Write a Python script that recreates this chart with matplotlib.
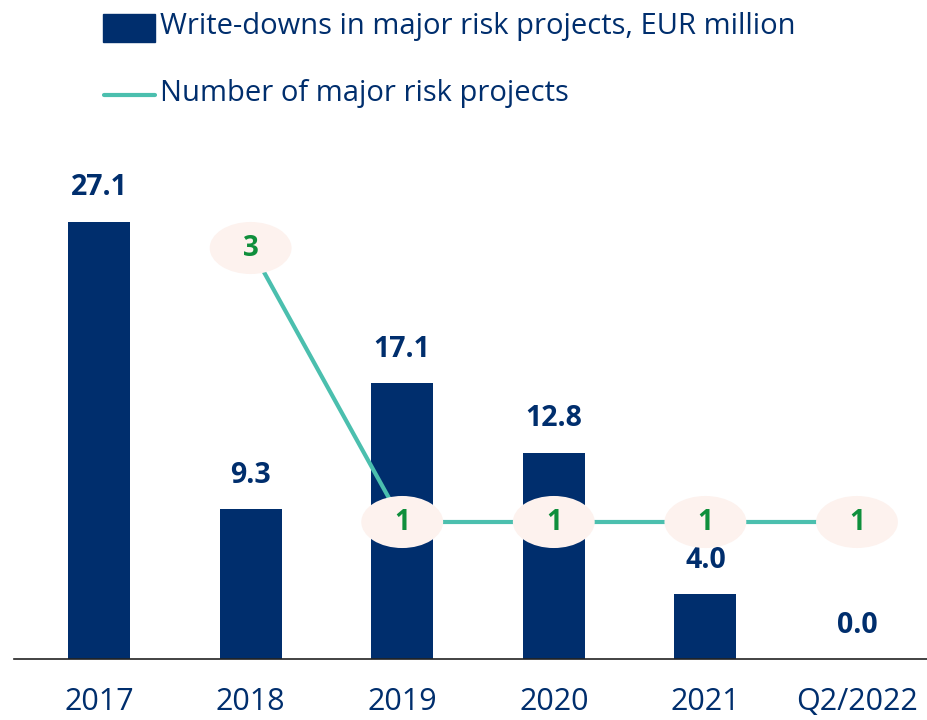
import matplotlib
matplotlib.use("Agg")
import matplotlib.pyplot as plt
from matplotlib.patches import Ellipse, Rectangle
from matplotlib.lines import Line2D

categories = ["2017", "2018", "2019", "2020", "2021", "Q2/2022"]
write_downs = [27.1, 9.3, 17.1, 12.8, 4.0, 0.0]
project_idx = [1, 2, 3, 4, 5]
projects = [3, 1, 1, 1, 1]

NAVY = "#002e6d"
TEAL = "#4bbfae"
GREEN = "#0f8f3c"
PINK = "#fdf2ee"

plt.rcParams["font.family"] = ["Open Sans", "DejaVu Sans"]

fig = plt.figure(figsize=(9.27, 7.2), dpi=100)
W, H = 927, 720
ax = fig.add_axes([14 / W, 61 / H, 913 / W, 509 / H])
ax2 = ax.twinx()

x = list(range(len(categories)))
ax.bar(x, write_downs, width=0.41, color=NAVY, zorder=2)
ax.set_xlim(-0.561, 5.462)
ax.set_ylim(0, 509 / 16.13)
ax2.set_ylim(0, 509 / 137)

for xi, v in zip(x, write_downs):
    ax.annotate(f"{v:.1f}", (xi, v), xytext=(0, 19), textcoords="offset points",
                ha="center", va="baseline", fontsize=20.5, fontweight="bold", color=NAVY)

ax2.plot(project_idx, projects, color=TEAL, lw=3, zorder=1)
for xi, v in zip(project_idx, projects):
    ax2.add_patch(Ellipse((xi, v), 0.54, 0.38, facecolor=PINK, edgecolor="none", zorder=2))
    ax2.text(xi, v, str(v), ha="center", va="center", fontsize=20,
             fontweight="bold", color=GREEN, zorder=3)

for a in (ax, ax2):
    for s in ("top", "right", "left"):
        a.spines[s].set_visible(False)
    a.set_yticks([])
ax.spines["bottom"].set_color("#222222")
ax.spines["bottom"].set_linewidth(1.2)
ax2.spines["bottom"].set_visible(False)

ax.set_xticks(x)
ax.set_xticklabels(categories, fontsize=22, color=NAVY)
ax.tick_params(axis="x", length=0, pad=20)

# legend drawn by hand
fig.patches.append(Rectangle((103 / W, 1 - 42 / H), 52 / W, 28 / H,
                             transform=fig.transFigure, color=NAVY))
fig.text(160 / W, 1 - 34 / H, "Write-downs in major risk projects, EUR million",
         fontsize=21, color=NAVY, va="baseline")
fig.lines.append(Line2D([104 / W, 155 / W], [1 - 95 / H, 1 - 95 / H],
                        transform=fig.transFigure, color=TEAL, lw=3,
                        solid_capstyle="round"))
fig.text(160 / W, 1 - 101 / H, "Number of major risk projects",
         fontsize=21, color=NAVY, va="baseline")

fig.savefig("out.png", dpi=100)
